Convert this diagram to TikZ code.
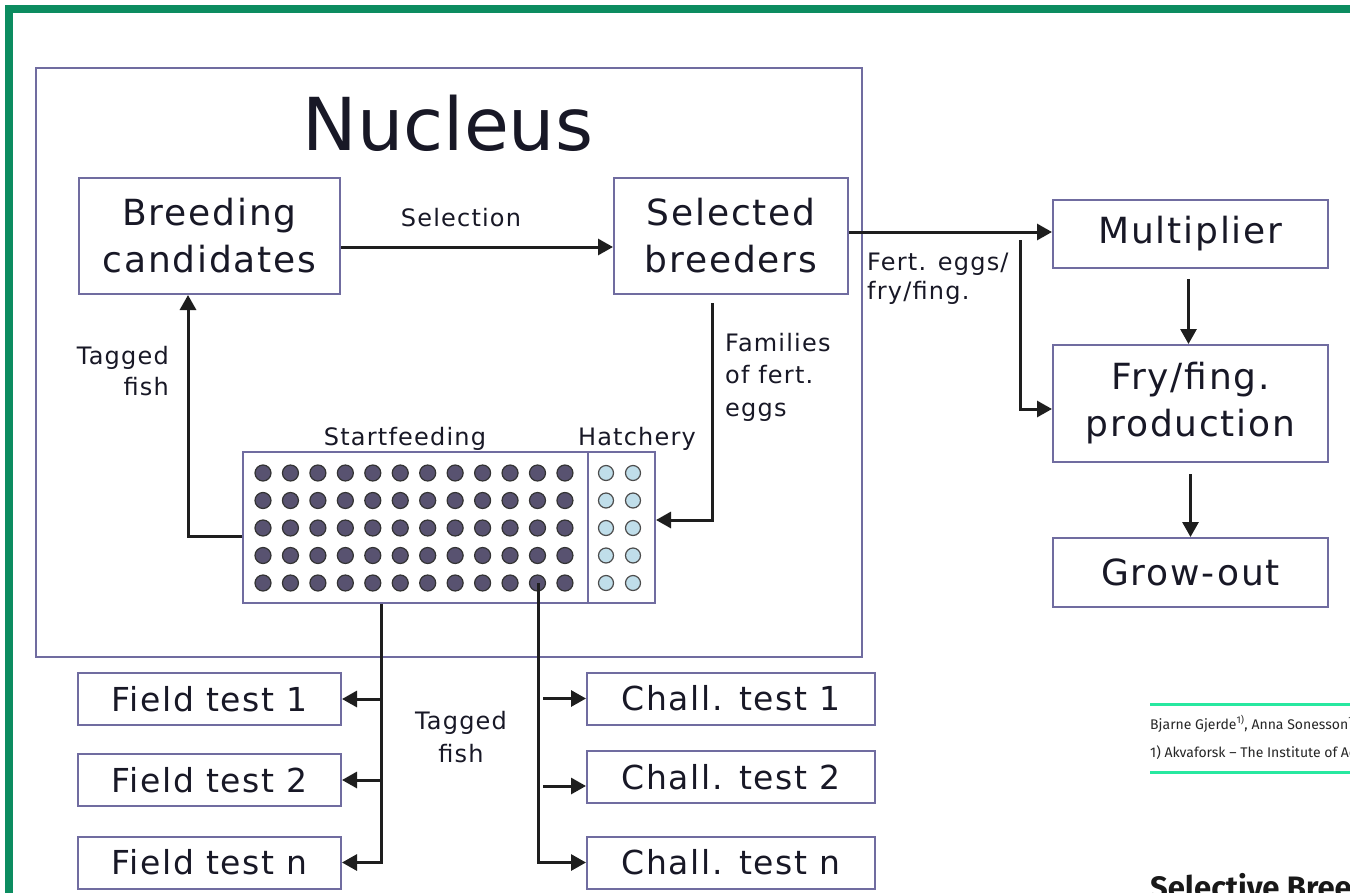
\documentclass[tikz,border=0pt]{standalone}
\usepackage{fontspec}
\setmainfont{DejaVu Sans}
\newfontfamily\dgfont[LetterSpace=5]{DejaVu Sans}
\newfontfamily\nucfont{DejaVu Sans}
\newfontfamily\pagefont{Fira Sans}
\usetikzlibrary{arrows.meta}
\definecolor{boxc}{RGB}{112,108,160}
\definecolor{txt}{RGB}{24,24,38}
\definecolor{conc}{RGB}{30,30,30}
\definecolor{dotdark}{RGB}{88,82,112}
\definecolor{dotlight}{RGB}{192,222,234}
\definecolor{frame}{RGB}{12,140,96}
\definecolor{mint}{RGB}{40,232,160}
\begin{document}
\begin{tikzpicture}[x=1pt,y=-1pt,
 box/.style={draw=boxc, line width=2pt, inner sep=0pt, text=txt, align=center, font=\dgfont\fontsize{36}{47}\selectfont},
 testbox/.style={box, font=\dgfont\fontsize{33}{40}\selectfont},
 lab/.style={inner sep=0pt, text=txt, font=\dgfont\fontsize{24}{31}\selectfont},
 conn/.style={draw=conc, line width=3pt},
 arr/.style={conn, -{Triangle[length=15pt,width=16pt]}},
 dotd/.style={fill=dotdark, draw=black!80, line width=1.2pt},
 dotl/.style={fill=dotlight, draw=black!70, line width=1.2pt},
 pagetext/.style={anchor=base west, inner sep=0pt, text=black!85, font=\pagefont\fontsize{14}{16}\selectfont}]
\useasboundingbox (0,0) rectangle (1350,892);
\clip (0,0) rectangle (1350,892);
\fill[white] (0,0) rectangle (1350,892);
% page frame
\draw[draw=frame, line width=8pt] (9,900) -- (9,9) -- (1360,9);
% nucleus
\node[draw=boxc, line width=2pt, minimum width=826pt, minimum height=589pt, inner sep=0pt] (nucleus) at (449,362.5) {};
\node[anchor=base, inner sep=0pt, text=txt, font=\nucfont\fontsize{73}{80}\selectfont] (title) at (448,150) {Nucleus};
% boxes
\node[box, minimum width=261pt, minimum height=116pt] (bc) at (209.5,236) {Breeding\\candidates};
\node[box, minimum width=234pt, minimum height=116pt] (sb) at (731,236) {Selected\\breeders};
\node[box, minimum width=275pt, minimum height=68pt] (mult) at (1190.5,234) {Multiplier};
\node[box, minimum width=275pt, minimum height=117pt] (fry) at (1190.5,403.5) {Fry/fing.\\production};
\node[box, minimum width=275pt, minimum height=69pt] (grow) at (1190.5,572.5) {Grow-out};
% grid
\node[draw=boxc, line width=2pt, minimum width=412pt, minimum height=151pt, inner sep=0pt] (grid) at (449,527.5) {};
\draw[draw=boxc, line width=2pt] (588,452) -- (588,603);
\foreach \i in {0,...,11} \foreach \j in {0,...,4}
  \filldraw[dotd] (263+27.45*\i, 473+27.5*\j) circle[radius=8pt];
\foreach \i in {0,1} \foreach \j in {0,...,4}
  \filldraw[dotl] (606+27*\i, 473+27.5*\j) circle[radius=7.5pt];
\node[lab, anchor=base] (sf) at (405,445) {Startfeeding};
\node[lab, anchor=base] (hat) at (637,445) {Hatchery};
% tests
\node[testbox, minimum width=263pt, minimum height=52pt] (f1) at (209.5,699) {Field test 1};
\node[testbox, minimum width=263pt, minimum height=52pt] (f2) at (209.5,780) {Field test 2};
\node[testbox, minimum width=263pt, minimum height=52pt] (fn) at (209.5,862.5) {Field test n};
\node[testbox, minimum width=288pt, minimum height=52pt] (c1) at (731,698.5) {Chall. test 1};
\node[testbox, minimum width=288pt, minimum height=52pt] (c2) at (731,777) {Chall. test 2};
\node[testbox, minimum width=288pt, minimum height=52pt] (cn) at (731,862.5) {Chall. test n};
% labels
\node[lab, anchor=base] (sel) at (461,226) {Selection};
\node[lab, anchor=north west, align=left, font=\dgfont\fontsize{24}{29}\selectfont] (fert) at (867,253) {Fert. eggs/\\fry/fing.};
\node[lab, anchor=north west, align=left, font=\dgfont\fontsize{24}{32.5}\selectfont] (fam) at (725,333) {Families\\of fert.\\eggs};
\node[lab, anchor=north east, align=right] (tag1) at (169,346) {Tagged\\fish};
\node[lab, anchor=north, align=center, font=\dgfont\fontsize{24}{33}\selectfont] (tag2) at (461,711) {Tagged\\fish};
% connectors
\draw[arr] ([yshift=-11pt]bc.east) -- ([yshift=-11pt]sb.west);
\coordinate (fe) at ([yshift=4pt]sb.east);
\draw[arr] (fe) -- (mult.west |- fe);
\coordinate (br) at (1020,240);
\coordinate (br2) at (1020,409);
\draw[arr] (br) -- (br2) -- (fry.west |- br2);
\draw[arr] ([xshift=-2pt,yshift=-10pt]mult.south) -- ([xshift=-2pt]fry.north);
\draw[arr] ([yshift=-11pt]fry.south) -- (grow.north);
\coordinate (fm) at (712,520);
\draw[arr] ([xshift=-19pt,yshift=-8pt]sb.south) -- (fm) -- (grid.east |- fm);
\coordinate (tg) at (188,536);
\draw[arr] (grid.west |- tg) -- (tg) -- (bc.south -| tg);
\coordinate (fx) at (381,0);
\draw[arr] (grid.south -| fx) -- (fx |- fn.east) -- (fn.east);
\draw[arr] (fx |- f1.east) -- (f1.east);
\draw[arr] (fx |- f2.east) -- (f2.east);
\coordinate (cx) at (538,583);
\coordinate (cx2) at (543,0);
\draw[arr] (cx) -- (cx |- cn.west) -- (cn.west);
\draw[arr] (cx2 |- c1.west) -- (c1.west);
\draw[arr] ([yshift=-9pt]cx2 |- c2.west) -- ([yshift=-9pt]c2.west);
% page text (cut at the right edge, as in the source page)
\draw[draw=mint, line width=3pt] (1150,704) -- (1352,704);
\draw[draw=mint, line width=3pt] (1150,772) -- (1352,772);
\node[pagetext] (auth) at (1150,729) {Bjarne Gjerde\textsuperscript{1)}, Anna Sonesson\textsuperscript{1}};
\node[pagetext] (aff) at (1150,757) {1) Akvaforsk – The Institute of Aq};
\node[anchor=base west, inner sep=0pt, text=black!90, font=\pagefont\bfseries\fontsize{31}{36}\selectfont] (head) at (1150,898) {Selective Breed};
\end{tikzpicture}
\end{document}
